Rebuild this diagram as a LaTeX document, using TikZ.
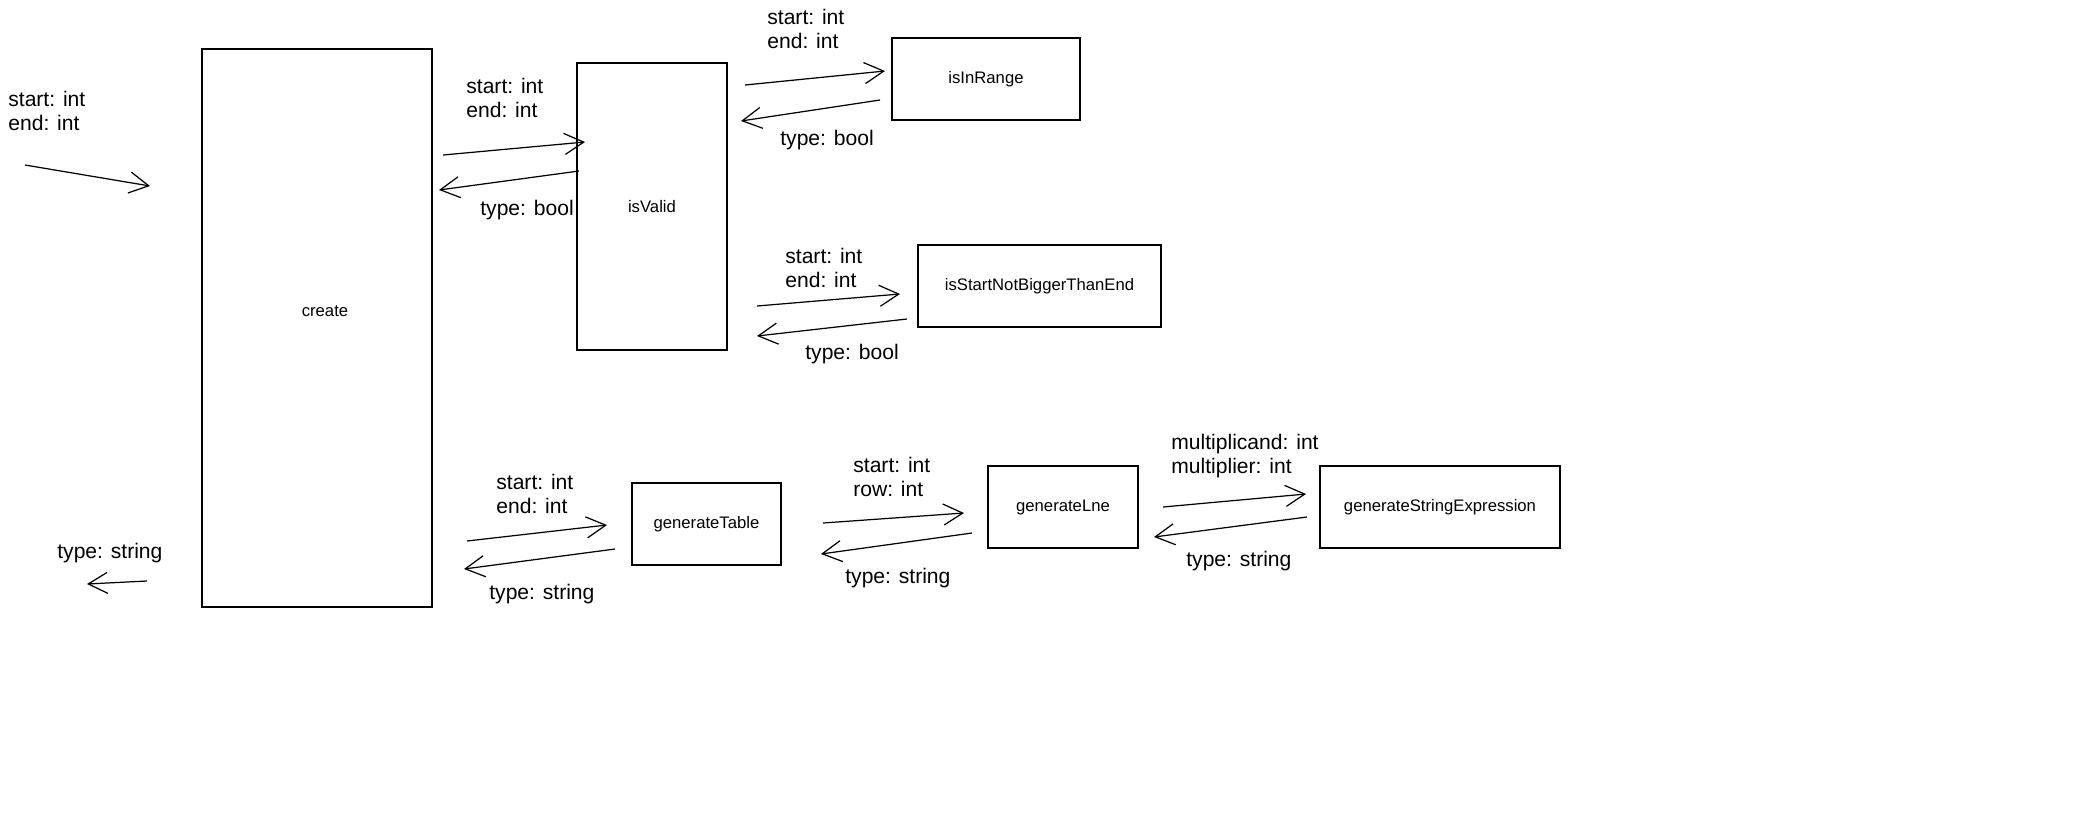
\documentclass[tikz,border=0pt]{standalone}
\usepackage{fontspec}
\setmainfont{Liberation Sans}
\usetikzlibrary{arrows.meta,positioning}

\begin{document}
\begin{tikzpicture}[x=0.02cm,y=-0.02cm,
  func/.style={draw,line width=0.8pt,inner sep=0,font=\fontsize{9.5}{11}\selectfont},
  flow/.style={line width=0.7pt,-{Straight Barb[length=11pt,width=12pt]}},
  param/.style={anchor=west,inner sep=0,align=left,font=\fontsize{12}{13.2}\selectfont}]
\fill[white] (0,0) rectangle (2096,819);
\useasboundingbox (0,0) rectangle (2096,819);

% functions
\node[func,minimum width=4.6cm,minimum height=11.16cm] (create) at (317,328) {};
\node[font=\fontsize{9.5}{11}\selectfont] (createtxt) at (325,311) {create};
\node[func,minimum width=3cm,minimum height=5.74cm] (isValid) at (652,206.5) {isValid};
\node[func,minimum width=3.76cm,minimum height=1.64cm] (isInRange) at (986,79) {isInRange};
\node[func,minimum width=4.86cm,minimum height=1.64cm] (isStart) at (1039.5,286) {isStartNotBiggerThanEnd};
\node[func,minimum width=2.98cm,minimum height=1.64cm] (genTable) at (706.5,524) {generateTable};
\node[func,minimum width=3cm,minimum height=1.64cm] (genLine) at (1063,507) {generateLne};
\node[func,minimum width=4.8cm,minimum height=1.64cm] (genExpr) at (1440,507) {generateStringExpression};

% ends of the calls
\coordinate (in0) at (25,165);     \coordinate (in1) at (150,186);
\coordinate (out0) at (147,581);   \coordinate (out1) at (87,584);
\coordinate (cv0) at (443,155);    \coordinate (cv1) at (585,142);
\coordinate (vc0) at (579,171);    \coordinate (vc1) at (439,190);
\coordinate (vr0) at (745,85);     \coordinate (vr1) at (885,71);
\coordinate (rv0) at (880,100);    \coordinate (rv1) at (741,121);
\coordinate (vs0) at (757,306);    \coordinate (vs1) at (900,294);
\coordinate (sv0) at (907,319);    \coordinate (sv1) at (757,336);
\coordinate (ct0) at (467,541);    \coordinate (ct1) at (607,525);
\coordinate (tc0) at (615,549);    \coordinate (tc1) at (464,569);
\coordinate (tl0) at (823,523);    \coordinate (tl1) at (964,513);
\coordinate (lt0) at (972,533);    \coordinate (lt1) at (821,554);
\coordinate (le0) at (1163,507);   \coordinate (le1) at (1306,494);
\coordinate (el0) at (1307,517);   \coordinate (el1) at (1154,537);

\draw[flow] (in0) -- (in1);
\draw[flow] (out0) -- (out1);
\draw[flow] (cv0) -- (cv1);
\draw[flow] (vc0) -- (vc1);
\draw[flow] (vr0) -- (vr1);
\draw[flow] (rv0) -- (rv1);
\draw[flow] (vs0) -- (vs1);
\draw[flow] (sv0) -- (sv1);
\draw[flow] (ct0) -- (ct1);
\draw[flow] (tc0) -- (tc1);
\draw[flow] (tl0) -- (tl1);
\draw[flow] (lt0) -- (lt1);
\draw[flow] (le0) -- (le1);
\draw[flow] (el0) -- (el1);

% parameters and return types
\node[param] (inlbl) at (8,111) {start: int\\end: int};
\node[param] (outlbl) at (57,553) {type: string};
\node[param] (cvlbl) at (466,98) {start: int\\end: int};
\node[param] (vclbl) at (480,210) {type: bool};
\node[param] (vrlbl) at (767,29) {start: int\\end: int};
\node[param] (rvlbl) at (780,140) {type: bool};
\node[param] (vslbl) at (785,268) {start: int\\end: int};
\node[param] (svlbl) at (805,354) {type: bool};
\node[param] (ctlbl) at (496,494) {start: int\\end: int};
\node[param] (tclbl) at (489,594) {type: string};
\node[param] (tllbl) at (853,477) {start: int\\row: int};
\node[param] (ltlbl) at (845,578) {type: string};
\node[param] (lelbl) at (1171,456) {multiplicand: int\\multiplier: int};
\node[param] (ellbl) at (1186,561) {type: string};
\end{tikzpicture}
\end{document}
